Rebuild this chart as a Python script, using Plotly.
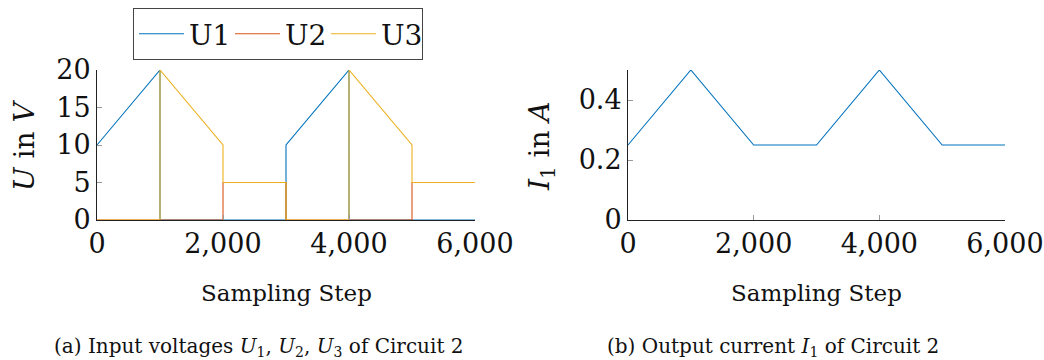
import plotly.graph_objects as go

# Input voltages of circuit 2 (piecewise linear, vertical jumps as repeated steps)
u1_step = [0, 1000, 1000, 3000, 3000, 4000, 4000, 6000]
u1_volt = [10, 20, 0, 0, 10, 20, 0, 0]

u2_step = [0, 2000, 2000, 3000, 3000, 5000, 5000, 6000]
u2_volt = [0, 0, 5, 5, 0, 0, 5, 5]

u3_step = [0, 1000, 1000, 2000, 2000, 3000, 3000, 4000, 4000, 5000, 5000, 6000]
u3_volt = [0, 0, 20, 10, 5, 5, 0, 0, 20, 10, 5, 5]

# Output current of circuit 2
i1_step = [0, 1000, 2000, 3000, 4000, 5000, 6000]
i1_amp = [0.25, 0.5, 0.25, 0.25, 0.5, 0.25, 0.25]

x_ticks = [0, 2000, 4000, 6000]
u_ticks = [0, 5, 10, 15, 20]
i_ticks = [0, 0.2, 0.4]
i_tick_text = ["0", "0.2", "0.4"]

BLUE = "#0072BD"
RED = "#D95319"
YELLOW = "#EDB120"
FONT = "DejaVu Serif, serif"
INK = "#111"

W, H = 1044, 360

fig = go.Figure()
fig.add_trace(go.Scatter(x=u1_step, y=u1_volt, mode="lines", name="U1",
                         line=dict(color=BLUE, width=1.1), xaxis="x", yaxis="y"))
fig.add_trace(go.Scatter(x=u2_step, y=u2_volt, mode="lines", name="U2",
                         line=dict(color=RED, width=1.1), xaxis="x", yaxis="y"))
fig.add_trace(go.Scatter(x=u3_step, y=u3_volt, mode="lines", name="U3",
                         line=dict(color=YELLOW, width=1.1), xaxis="x", yaxis="y"))
fig.add_trace(go.Scatter(x=i1_step, y=i1_amp, mode="lines", name="I1", showlegend=False,
                         line=dict(color=BLUE, width=1.1), xaxis="x2", yaxis="y2"))

ydom = [(H - 220) / H, (H - 70) / H]

common_x = dict(range=[0, 6000], tickvals=x_ticks, tickformat=",d",
                showline=True, linecolor="#222", linewidth=1,
                ticks="inside", ticklen=5, tickcolor="#999",
                showgrid=False, zeroline=False, automargin=False,
                tickfont=dict(family=FONT, size=27, color=INK))
common_y = dict(showline=True, linecolor="#222", linewidth=1,
                ticks="inside", ticklen=5, tickcolor="#999",
                showgrid=False, zeroline=False, automargin=False,
                tickfont=dict(family=FONT, size=27, color=INK))

fig.update_layout(
    width=W, height=H,
    margin=dict(l=0, r=0, t=0, b=0),
    paper_bgcolor="white", plot_bgcolor="white",
    font=dict(family=FONT, color=INK),
    xaxis=dict(domain=[97 / W, 475 / W], anchor="y", **common_x),
    yaxis=dict(domain=ydom, anchor="x", range=[0, 20], tickvals=u_ticks, **common_y),
    xaxis2=dict(domain=[628 / W, 1005 / W], anchor="y2", **common_x),
    yaxis2=dict(domain=ydom, anchor="x2", range=[0, 0.5], tickvals=i_ticks,
                ticktext=i_tick_text, **common_y),
    legend=dict(orientation="h", x=133 / W, xanchor="left", y=1 - 8 / H, yanchor="top",
                bordercolor="#444", borderwidth=1, bgcolor="white",
                font=dict(family=FONT, size=28, color=INK),
                itemwidth=45, entrywidth=36, entrywidthmode="pixels", tracegroupgap=0),
    showlegend=True,
)

# Axis titles and sub-figure captions
titles = [
    ("Sampling Step", 286 / W, 293, 23, 0),
    ("Sampling Step", 816 / W, 293, 23, 0),
    ("<i>U</i> in <i>V</i>", 24 / W, 146, 28, -90),
    ("<i>I</i><sub>1</sub> in <i>A</i>", 541 / W, 146, 28, -90),
    ("(a) Input voltages <i>U</i><sub>1</sub>, <i>U</i><sub>2</sub>, <i>U</i><sub>3</sub> of Circuit 2",
     259 / W, 347, 20, 0),
    ("(b) Output current <i>I</i><sub>1</sub> of Circuit 2", 773 / W, 347, 20, 0),
]
for text, x, ypx, size, ang in titles:
    fig.add_annotation(text=text, x=x, y=1 - ypx / H, xref="paper", yref="paper",
                       xanchor="center", yanchor="middle", textangle=ang,
                       showarrow=False, font=dict(family=FONT, size=size, color=INK))

fig.write_html("out.html")
